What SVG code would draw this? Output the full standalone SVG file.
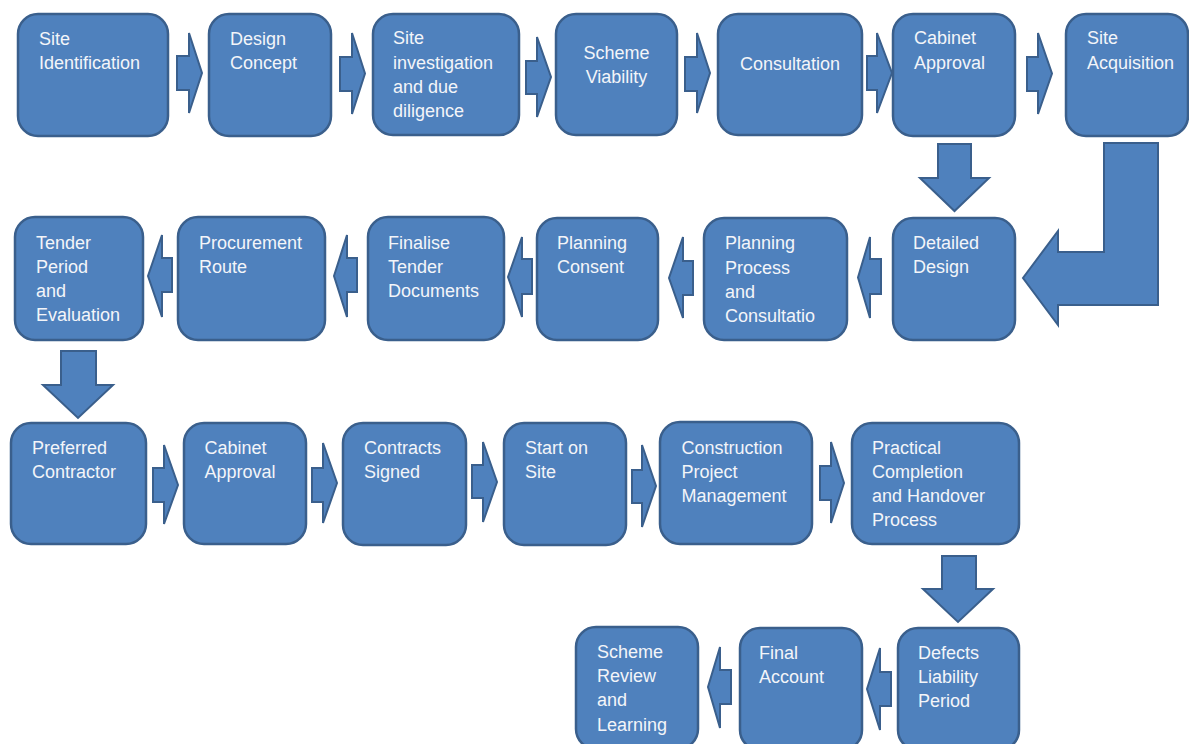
<svg xmlns="http://www.w3.org/2000/svg" width="1189" height="744" viewBox="0 0 1189 744">
<style>
.box{fill:#4f81bd;stroke:#3a5f8c;stroke-width:2.5}
.arr{fill:#4f81bd;stroke:#3a5f8c;stroke-width:2;stroke-linejoin:miter}
text{font-family:"Liberation Sans",Arial,sans-serif;font-size:18px;fill:#f3f5f9}
.c{text-anchor:middle}
</style>
<rect width="1189" height="744" fill="#ffffff"/>
<g id="connectors">
<path class="arr" d="M177,56 L189,56 L189,33 L202,73 L189,113 L189,90 L177,90 Z"/>
<path class="arr" d="M340,57 L352,57 L352,33 L365,73.5 L352,114 L352,91 L340,91 Z"/>
<path class="arr" d="M526,61 L537,61 L537,37 L551,77 L537,117 L537,94 L526,94 Z"/>
<path class="arr" d="M685,57 L697,57 L697,33 L710,73 L697,113 L697,91 L685,91 Z"/>
<path class="arr" d="M867,56 L877,56 L877,33 L892,73 L877,113 L877,90 L867,90 Z"/>
<path class="arr" d="M1027,57 L1038,57 L1038,33 L1052,73.5 L1038,114 L1038,91 L1027,91 Z"/>
<path class="arr" d="M938,144 L971,144 L971,178 L989,178 L954.5,211 L920,178 L938,178 Z"/>
<path class="arr" d="M1104,143 L1158,143 L1158,305 L1058,305 L1058,325 L1023,278 L1058,231 L1058,252 L1104,252 Z"/>
<path class="arr" d="M881,259 L870,259 L870,237 L858,277.5 L870,318 L870,294 L881,294 Z"/>
<path class="arr" d="M693,261 L683,261 L683,237 L669,278 L683,318 L683,295 L693,295 Z"/>
<path class="arr" d="M532,259 L522,259 L522,237 L508,277 L522,317 L522,294 L532,294 Z"/>
<path class="arr" d="M357,258 L347,258 L347,235 L334,276 L347,317 L347,292 L357,292 Z"/>
<path class="arr" d="M172,258 L162,258 L162,235 L148,276 L162,317 L162,292 L172,292 Z"/>
<path class="arr" d="M61,351 L96,351 L96,385 L113,385 L78,418 L43,385 L61,385 Z"/>
<path class="arr" d="M153,468 L164,468 L164,445 L178,485 L164,524 L164,502 L153,502 Z"/>
<path class="arr" d="M312,468 L323,468 L323,443 L337,483 L323,523 L323,502 L312,502 Z"/>
<path class="arr" d="M472,465 L483,465 L483,442 L497,482 L483,522 L483,498 L472,498 Z"/>
<path class="arr" d="M632,470 L642,470 L642,445 L656,486 L642,527 L642,503 L632,503 Z"/>
<path class="arr" d="M820,466 L831,466 L831,442 L844,483 L831,523 L831,500 L820,500 Z"/>
<path class="arr" d="M942,556 L976,556 L976,589 L993,589 L958,622 L923,589 L942,589 Z"/>
<path class="arr" d="M891,672 L880,672 L880,648 L867,689 L880,730 L880,706 L891,706 Z"/>
<path class="arr" d="M731,670 L720,670 L720,647 L708,687 L720,728 L720,704 L731,704 Z"/>
</g>
<g id="n1"><rect class="box" x="18" y="14" width="150" height="122" rx="20"/><text x="39" y="45">Site</text><text x="39" y="69">Identification</text></g>
<g id="n2"><rect class="box" x="209" y="14" width="122" height="122" rx="20"/><text x="230" y="45">Design</text><text x="230" y="69">Concept</text></g>
<g id="n3"><rect class="box" x="373" y="14" width="146" height="121" rx="20"/><text x="393" y="44">Site</text><text x="393" y="68.5">investigation</text><text x="393" y="92.5">and due</text><text x="393" y="116.5">diligence</text></g>
<g id="n4"><rect class="box" x="556" y="14" width="121" height="121" rx="20"/><text class="c" x="616.5" y="59">Scheme</text><text class="c" x="616.5" y="83">Viability</text></g>
<g id="n5"><rect class="box" x="718" y="14" width="144" height="121" rx="20"/><text class="c" x="790" y="70">Consultation</text></g>
<g id="n6"><rect class="box" x="893" y="14" width="122" height="122" rx="20"/><text x="914" y="44">Cabinet</text><text x="914" y="68.5">Approval</text></g>
<g id="n7"><rect class="box" x="1066" y="14" width="122" height="122" rx="20"/><text x="1087" y="44">Site</text><text x="1087" y="68.5">Acquisition</text></g>
<g id="n8"><rect class="box" x="893" y="218" width="122" height="122" rx="20"/><text x="913" y="248.5">Detailed</text><text x="913" y="272.5">Design</text></g>
<g id="n9"><rect class="box" x="704" y="218" width="143" height="122" rx="20"/><text x="725" y="249">Planning</text><text x="725" y="273.5">Process</text><text x="725" y="297.5">and</text><text x="725" y="322">Consultatio</text></g>
<g id="n10"><rect class="box" x="537" y="218" width="121" height="122" rx="20"/><text x="557" y="249">Planning</text><text x="557" y="273">Consent</text></g>
<g id="n11"><rect class="box" x="368" y="217" width="136" height="123" rx="20"/><text x="388" y="249">Finalise</text><text x="388" y="273">Tender</text><text x="388" y="297">Documents</text></g>
<g id="n12"><rect class="box" x="178" y="217" width="147" height="123" rx="20"/><text x="199" y="249">Procurement</text><text x="199" y="273">Route</text></g>
<g id="n13"><rect class="box" x="15" y="217" width="128" height="123" rx="20"/><text x="36" y="249">Tender</text><text x="36" y="273">Period</text><text x="36" y="297">and</text><text x="36" y="321">Evaluation</text></g>
<g id="n14"><rect class="box" x="11" y="423" width="135" height="121" rx="20"/><text x="32" y="453.5">Preferred</text><text x="32" y="477.5">Contractor</text></g>
<g id="n15"><rect class="box" x="184" y="423" width="122" height="121" rx="20"/><text x="204.5" y="453.5">Cabinet</text><text x="204.5" y="477.5">Approval</text></g>
<g id="n16"><rect class="box" x="343" y="423" width="123" height="122" rx="20"/><text x="364" y="454">Contracts</text><text x="364" y="478">Signed</text></g>
<g id="n17"><rect class="box" x="504" y="423" width="122" height="122" rx="20"/><text x="525" y="454">Start on</text><text x="525" y="478">Site</text></g>
<g id="n18"><rect class="box" x="660" y="422" width="152" height="122" rx="20"/><text x="681.5" y="453.5">Construction</text><text x="681.5" y="477.5">Project</text><text x="681.5" y="502">Management</text></g>
<g id="n19"><rect class="box" x="852" y="423" width="167" height="121" rx="20"/><text x="872" y="453.5">Practical</text><text x="872" y="478">Completion</text><text x="872" y="502">and Handover</text><text x="872" y="526">Process</text></g>
<g id="n20"><rect class="box" x="898" y="628" width="121" height="122" rx="20"/><text x="918" y="659">Defects</text><text x="918" y="683">Liability</text><text x="918" y="707">Period</text></g>
<g id="n21"><rect class="box" x="740" y="628" width="122" height="122" rx="20"/><text x="759" y="659">Final</text><text x="759" y="683">Account</text></g>
<g id="n22"><rect class="box" x="576" y="627" width="122" height="122" rx="20"/><text x="597" y="658">Scheme</text><text x="597" y="682">Review</text><text x="597" y="706">and</text><text x="597" y="731">Learning</text></g>
</svg>
